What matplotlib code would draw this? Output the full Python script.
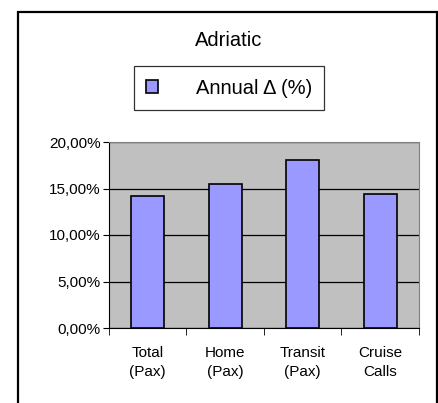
import matplotlib.pyplot as plt
import matplotlib.patches as mpatches
import numpy as np

plt.rcParams['font.family'] = ['Liberation Sans', 'DejaVu Sans']

categories = ["Total\n(Pax)", "Home\n(Pax)", "Transit\n(Pax)", "Cruise\nCalls"]
values = [14.2, 15.45, 18.05, 14.4]
yticks = [0, 5, 10, 15, 20]
ylabels = ["0,00%", "5,00%", "10,00%", "15,00%", "20,00%"]

W, H = 439, 403
fig = plt.figure(figsize=(W / 100, H / 100), dpi=100)

# outer chart frame (runs off the bottom edge)
fig.patches.append(mpatches.Rectangle((18 / W, -0.05), (437 - 18) / W, 1 - 12 / H + 0.05,
                                      transform=fig.transFigure, fill=False,
                                      edgecolor='black', linewidth=1.6))

ax = fig.add_axes([109 / W, 1 - 328 / H, (419 - 109) / W, (328 - 142) / H])
ax.set_facecolor('#c0c0c0')
x = np.arange(len(values))
ax.bar(x, values, width=0.43, color='#9999ff', edgecolor='black', linewidth=1.2, zorder=3)
ax.set_xlim(-0.5, len(values) - 0.5)
ax.set_ylim(0, 20)
ax.set_yticks(yticks)
ax.set_yticklabels(ylabels, fontsize=11)
ax.set_xticks(x)
ax.set_xticklabels(categories, fontsize=11, linespacing=1.45)
ax.tick_params(axis='x', length=0, pad=13)
ax.set_xticks(np.arange(-0.5, len(values)), minor=True)
ax.tick_params(axis='x', which='minor', length=5, color='black')
ax.tick_params(axis='y', length=4, color='black', pad=2)
ax.grid(axis='y', color='black', linewidth=0.9, zorder=1)
for s in ['top', 'right']:
    ax.spines[s].set_color('#808080')
for s in ['left', 'bottom']:
    ax.spines[s].set_color('black')

fig.text(229 / W, 1 - 41 / H, "Adriatic", ha='center', va='center', fontsize=14.5)

handle = mpatches.Patch(facecolor='#9999ff', edgecolor='black', linewidth=1.2)
leg = fig.legend([handle], ["Annual Δ (%)"], loc='center',
                 bbox_to_anchor=(229 / W, 1 - 88 / H), fontsize=14.5,
                 frameon=True, fancybox=False, edgecolor='black',
                 handlelength=0.6, handleheight=0.6, handletextpad=1.9,
                 borderpad=0.6)
leg.get_frame().set_linewidth(0.9)

fig.savefig("out.png", dpi=100)
